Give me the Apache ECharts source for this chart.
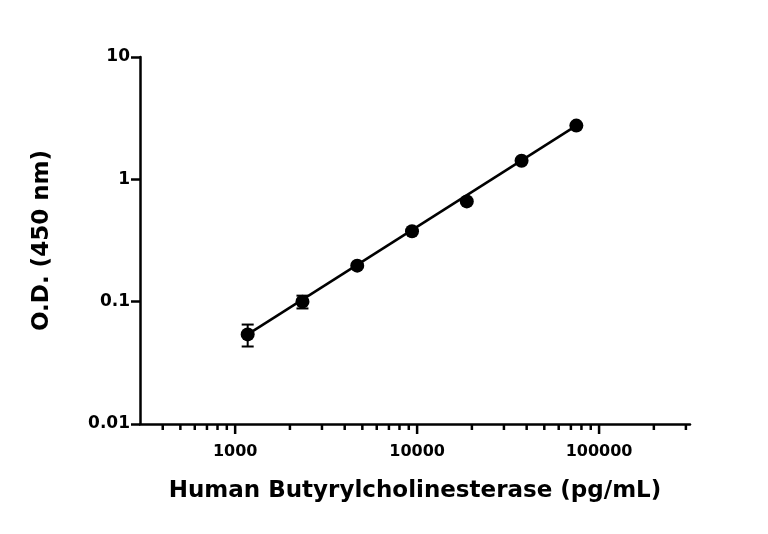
<!DOCTYPE html>
<html>
<head>
<meta charset="utf-8">
<script src="https://cdn.jsdelivr.net/npm/echarts@6/dist/echarts.min.js"></script>
<style>html,body{margin:0;padding:0;background:#fff}#main{width:768px;height:534px}</style>
</head>
<body>
<div id="main"></div>
<script>
// 浓度 (pg/mL) 与 OD 值
var conc = [1172, 2344, 4688, 9375, 18750, 37500, 75000];
var od = [0.054, 0.100, 0.197, 0.376, 0.66, 1.42, 2.75];
var odErr = [0.011, 0.012, 0.006, 0.01, 0.015, 0.03, 0.04];
// 拟合直线端点
var fitX = [1172, 75000];
var fitY = [0.054, 2.75];
// x 轴刻度
var xMajor = [1000, 10000, 100000];
var xMajorLabels = ['1000', '10000', '100000'];
var xMinor = [400, 500, 600, 700, 800, 900,
  2000, 3000, 4000, 5000, 6000, 7000, 8000, 9000,
  20000, 30000, 40000, 50000, 60000, 70000, 80000, 90000,
  200000, 300000];

var font = 'DejaVu Sans';
var myChart = echarts.init(document.getElementById('main'));

var tickData = [];
for (var i = 0; i < xMajor.length; i++) tickData.push([xMajor[i], 1, xMajorLabels[i]]);
for (var j = 0; j < xMinor.length; j++) tickData.push([xMinor[j], 0, '']);

var option = {
  animation: false,
  grid: {left: 140, right: 78, top: 57, bottom: 110},
  xAxis: {
    type: 'log', min: 300, max: 316000,
    name: 'Human Butyrylcholinesterase (pg/mL)',
    nameLocation: 'middle', nameGap: 56,
    nameTextStyle: {fontFamily: font, fontWeight: 'bold', fontSize: 23, color: '#000'},
    axisLine: {lineStyle: {color: '#000', width: 2.5}},
    axisTick: {show: false}, axisLabel: {show: false}, splitLine: {show: false}
  },
  yAxis: {
    type: 'log', min: 0.01, max: 10, logBase: 10,
    name: 'O.D. (450 nm)',
    nameLocation: 'middle', nameGap: 86,
    nameTextStyle: {fontFamily: font, fontWeight: 'bold', fontSize: 23, color: '#000'},
    axisLine: {show: true, lineStyle: {color: '#000', width: 2.5}},
    axisTick: {show: true, length: 9, lineStyle: {color: '#000', width: 2.5}},
    axisLabel: {fontFamily: font, fontWeight: 'bold', fontSize: 17, color: '#000', margin: 10,
      formatter: function (v) { return String(+v.toPrecision(3)); }},
    splitLine: {show: false}
  },
  series: [
    {
      type: 'line', data: fitX.map(function (x, k) { return [x, fitY[k]]; }),
      symbol: 'none', lineStyle: {color: '#000', width: 2.5}
    },
    {
      type: 'custom', clip: false,
      renderItem: function (params, api) {
        var x = api.value(0), e = odErr[params.dataIndex], y = api.value(1);
        var top = api.coord([x, y + e]), bot = api.coord([x, y - e]);
        var st = {stroke: '#000', lineWidth: 2};
        return {type: 'group', children: [
          {type: 'line', shape: {x1: top[0], y1: top[1], x2: bot[0], y2: bot[1]}, style: st},
          {type: 'line', shape: {x1: top[0] - 6, y1: top[1], x2: top[0] + 6, y2: top[1]}, style: st},
          {type: 'line', shape: {x1: bot[0] - 6, y1: bot[1], x2: bot[0] + 6, y2: bot[1]}, style: st}
        ]};
      },
      data: conc.map(function (x, k) { return [x, od[k]]; }), z: 3
    },
    {
      type: 'scatter', data: conc.map(function (x, k) { return [x, od[k]]; }),
      symbol: 'circle', symbolSize: 14, itemStyle: {color: '#000', opacity: 1}, z: 4
    },
    {
      type: 'custom', clip: false, silent: true,
      renderItem: function (params, api) {
        var p = api.coord([api.value(0), 0.01]);
        var major = api.value(1) === 1;
        var ch = [{type: 'line', shape: {x1: p[0], y1: p[1], x2: p[0], y2: p[1] + (major ? 10 : 6)},
          style: {stroke: '#000', lineWidth: 2.5}}];
        if (major) ch.push({type: 'text', x: p[0], y: p[1] + 20,
          style: {text: tickData[params.dataIndex][2], fill: '#000', font: 'bold 16px ' + font,
            align: 'center', verticalAlign: 'top'}});
        return {type: 'group', children: ch};
      },
      data: tickData
    }
  ]
};
myChart.setOption(option);
</script>
</body>
</html>
